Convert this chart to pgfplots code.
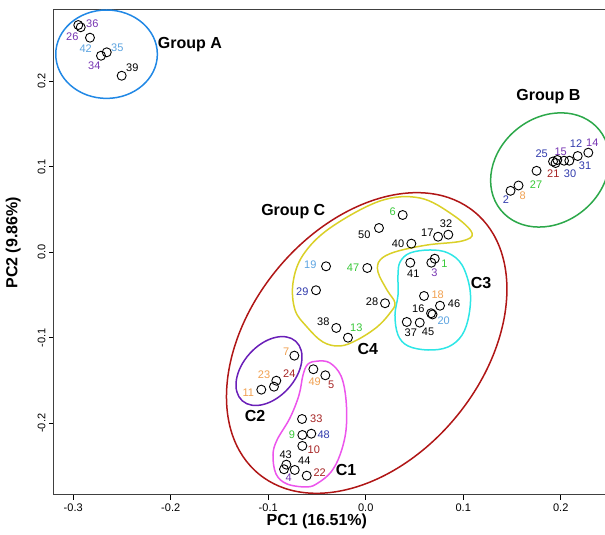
\documentclass[border=0pt]{standalone}
\usepackage{pgfplots}
\pgfplotsset{compat=1.18}
\usepackage{fontspec}
\setmainfont{Liberation Sans}
\definecolor{cA}{RGB}{33,136,229}
\definecolor{cB}{RGB}{44,168,74}
\definecolor{cC}{RGB}{176,22,22}
\definecolor{cCf}{RGB}{218,208,40}
\definecolor{cCt}{RGB}{46,230,230}
\definecolor{cCtw}{RGB}{106,31,184}
\definecolor{cCo}{RGB}{236,85,236}
\definecolor{tpu}{RGB}{118,52,178}
\definecolor{tlb}{RGB}{91,163,224}
\definecolor{tnv}{RGB}{48,58,172}
\definecolor{tgr}{RGB}{55,200,55}
\definecolor{tor}{RGB}{240,160,80}
\definecolor{tdr}{RGB}{165,35,35}
\newcommand{\lbl}[4]{\node[text=#1,font=\fontsize{11}{11}\selectfont,inner sep=0pt] at (axis cs:#2,#3) {#4};}
\newcommand{\grp}[3]{\node[font=\fontsize{16}{16}\selectfont\bfseries,inner sep=0pt] at (axis cs:#1,#2) {#3};}
\begin{document}
\begin{tikzpicture}
\begin{axis}[
  scale only axis, width=551pt, height=485pt,
  xmin=-0.3197, xmax=0.2454, ymin=-0.2839, ymax=0.2834,
  xtick={-0.3,-0.2,-0.1,0,0.1,0.2},
  ytick={-0.2,-0.1,0,0.1,0.2},
  tick align=outside, xtick pos=left, ytick pos=left,
  major tick length=5pt,
  tick style={black, line width=0.8pt},
  axis line style={black!75, line width=1pt},
  /pgf/number format/.cd, fixed, fixed zerofill, precision=1, assume math mode=true,
  /pgfplots/.cd,
  ticklabel style={font=\fontsize{11}{11}\selectfont},
  yticklabel style={rotate=90, anchor=south},
  xlabel={PC1 (16.51\%)}, ylabel={PC2 (9.86\%)},
  xlabel style={font=\fontsize{16}{16}\selectfont\bfseries, at={(axis description cs:0.477,-0.054)}, anchor=center},
  ylabel style={font=\fontsize{16}{16}\selectfont\bfseries, at={(axis description cs:-0.074,0.52)}, anchor=center, rotate=0},
  clip=false,
]
% shapes
\draw[cA, line width=1.5pt] (axis cs:-0.2658,0.2317) ellipse [x radius=50.8pt, y radius=44.2pt];
\draw[cB, line width=1.5pt, rotate around={39:(axis cs:0.1890,0.0963)}] (axis cs:0.1890,0.0963) ellipse [x radius=63.5pt, y radius=52.5pt];
\draw[cC, line width=1.5pt, rotate around={50.5:(axis cs:0.0010,-0.1061)}] (axis cs:0.0010,-0.1061) ellipse [x radius=169.7pt, y radius=116pt];
\draw[cCtw, line width=1.5pt, rotate around={48:(axis cs:-0.0992,-0.1389)}] (axis cs:-0.0992,-0.1389) ellipse [x radius=40pt, y radius=26pt];
\draw[cCo, line width=1.5pt] plot[smooth cycle, tension=0.6] coordinates {
 (axis cs:-0.0592,-0.1307) (axis cs:-0.0489,-0.1272) (axis cs:-0.0366,-0.1295) (axis cs:-0.0253,-0.1447)
 (axis cs:-0.0202,-0.1728) (axis cs:-0.0202,-0.2079) (axis cs:-0.0264,-0.2371) (axis cs:-0.0356,-0.2570)
 (axis cs:-0.0489,-0.2698) (axis cs:-0.0602,-0.2745) (axis cs:-0.0807,-0.2710) (axis cs:-0.0920,-0.2593)
 (axis cs:-0.0951,-0.2371) (axis cs:-0.0910,-0.2196) (axis cs:-0.0777,-0.1938) (axis cs:-0.0684,-0.1669)
 (axis cs:-0.0643,-0.1435)};
\draw[cCt, line width=1.5pt] plot[smooth cycle, tension=0.6] coordinates {
 (axis cs:0.0352,-0.0114) (axis cs:0.0454,-0.0008) (axis cs:0.0659,0.0027) (axis cs:0.0844,-0.0008)
 (axis cs:0.0988,-0.0149) (axis cs:0.1070,-0.0441) (axis cs:0.1059,-0.0734) (axis cs:0.0988,-0.0968)
 (axis cs:0.0844,-0.1108) (axis cs:0.0639,-0.1143) (axis cs:0.0434,-0.1096) (axis cs:0.0331,-0.0967)
 (axis cs:0.0300,-0.0734) (axis cs:0.0331,-0.0500) (axis cs:0.0331,-0.0266)};
\draw[cCf, line width=1.5pt] plot[smooth cycle, tension=0.6] coordinates {
 (axis cs:-0.0746,-0.0359) (axis cs:-0.0725,-0.0675) (axis cs:-0.0602,-0.0874) (axis cs:-0.0438,-0.1050)
 (axis cs:-0.0264,-0.1096) (axis cs:-0.0089,-0.1026) (axis cs:0.0116,-0.0874) (axis cs:0.0249,-0.0710)
 (axis cs:0.0300,-0.0593) (axis cs:0.0218,-0.0441) (axis cs:0.0126,-0.0231) (axis cs:0.0147,-0.0091)
 (axis cs:0.0300,0.0004) (axis cs:0.0628,0.0085) (axis cs:0.0988,0.0132) (axis cs:0.1090,0.0226)
 (axis cs:0.0895,0.0436) (axis cs:0.0557,0.0635) (axis cs:0.0147,0.0600) (axis cs:-0.0366,0.0284)
 (axis cs:-0.0643,-0.0032)};
% points
\addplot[only marks, mark=o, mark size=4.5pt, mark options={black, line width=0.9pt}] table {
x y
-0.2948 0.2658
-0.2923 0.2632
-0.2828 0.2510
-0.2656 0.2339
-0.2715 0.2299
-0.2503 0.2065
0.1485 0.0719
0.1567 0.0781
0.1752 0.0953
0.1921 0.1062
0.1947 0.1044
0.1965 0.1080
0.2034 0.1071
0.2088 0.1071
0.2174 0.1126
0.2283 0.1165
0.0379 0.0436
0.0136 0.0284
0.0742 0.0182
0.0847 0.0206
0.0468 0.0101
-0.0407 -0.0164
0.0016 -0.0184
0.0457 -0.0122
0.0708 -0.0075
0.0673 -0.0122
-0.0510 -0.0444
0.0198 -0.0596
0.0598 -0.0511
0.0762 -0.0625
0.0670 -0.0713
0.0685 -0.0727
0.0421 -0.0815
0.0554 -0.0823
-0.0302 -0.0885
-0.0182 -0.0999
-0.0732 -0.1209
-0.0917 -0.1502
-0.0941 -0.1572
-0.1071 -0.1607
-0.0537 -0.1368
-0.0414 -0.1439
-0.0653 -0.1950
-0.0650 -0.2137
-0.0558 -0.2122
-0.0650 -0.2265
-0.0814 -0.2484
-0.0838 -0.2538
-0.0728 -0.2546
-0.0605 -0.2613
};
% point labels
\lbl{tpu}{-0.2804}{0.2678}{36}
\lbl{tpu}{-0.3009}{0.2522}{26}
\lbl{tlb}{-0.2872}{0.2386}{42}
\lbl{tlb}{-0.2548}{0.2398}{35}
\lbl{tpu}{-0.2784}{0.2182}{34}
\lbl{black}{-0.2394}{0.2159}{39}
\lbl{tnv}{0.1439}{0.0612}{2}
\lbl{tor}{0.1610}{0.0658}{8}
\lbl{tgr}{0.1747}{0.0795}{27}
\lbl{tnv}{0.1805}{0.1158}{25}
\lbl{tpu}{0.2000}{0.1177}{15}
\lbl{tnv}{0.2157}{0.1267}{12}
\lbl{tpu}{0.2324}{0.1282}{14}
\lbl{tdr}{0.1924}{0.0924}{21}
\lbl{tnv}{0.2095}{0.0924}{30}
\lbl{tnv}{0.2249}{0.1009}{31}
\lbl{tgr}{0.0277}{0.0475}{6}
\lbl{black}{-0.0014}{0.0202}{50}
\lbl{black}{0.0632}{0.0229}{17}
\lbl{black}{0.0824}{0.0331}{32}
\lbl{black}{0.0331}{0.0101}{40}
\lbl{tlb}{-0.0568}{-0.0149}{19}
\lbl{tgr}{-0.0130}{-0.0175}{47}
\lbl{black}{0.0488}{-0.0250}{41}
\lbl{tgr}{0.0806}{-0.0133}{1}
\lbl{tpu}{0.0704}{-0.0239}{3}
\lbl{tnv}{-0.0650}{-0.0461}{29}
\lbl{black}{0.0065}{-0.0581}{28}
\lbl{tor}{0.0738}{-0.0491}{18}
\lbl{black}{0.0906}{-0.0596}{46}
\lbl{black}{0.0539}{-0.0660}{16}
\lbl{tlb}{0.0800}{-0.0795}{20}
\lbl{black}{0.0462}{-0.0940}{37}
\lbl{black}{0.0639}{-0.0924}{45}
\lbl{black}{-0.0435}{-0.0812}{38}
\lbl{tgr}{-0.0096}{-0.0877}{13}
\lbl{tor}{-0.0817}{-0.1166}{7}
\lbl{tor}{-0.1043}{-0.1427}{23}
\lbl{tdr}{-0.0784}{-0.1423}{24}
\lbl{tor}{-0.1204}{-0.1637}{11}
\lbl{tor}{-0.0523}{-0.1513}{49}
\lbl{tdr}{-0.0353}{-0.1552}{5}
\lbl{tdr}{-0.0507}{-0.1942}{33}
\lbl{tgr}{-0.0756}{-0.2137}{9}
\lbl{tnv}{-0.0431}{-0.2129}{48}
\lbl{tdr}{-0.0533}{-0.2304}{10}
\lbl{black}{-0.0821}{-0.2371}{43}
\lbl{black}{-0.0630}{-0.2441}{44}
\lbl{tpu}{-0.0790}{-0.2636}{4}
\lbl{tdr}{-0.0472}{-0.2578}{22}
% group labels
\grp{-0.1803}{0.2425}{Group A}
\grp{0.1873}{0.1820}{Group B}
\grp{-0.0743}{0.0475}{Group C}
\grp{0.1183}{-0.0363}{C3}
\grp{0.0021}{-0.1131}{C4}
\grp{-0.1135}{-0.1915}{C2}
\grp{-0.0202}{-0.2546}{C1}
\end{axis}
\pgfresetboundingbox
\path ([xshift=-54pt,yshift=-40pt]current axis.south west) rectangle ([yshift=10pt]current axis.north east);
\end{tikzpicture}
\end{document}
